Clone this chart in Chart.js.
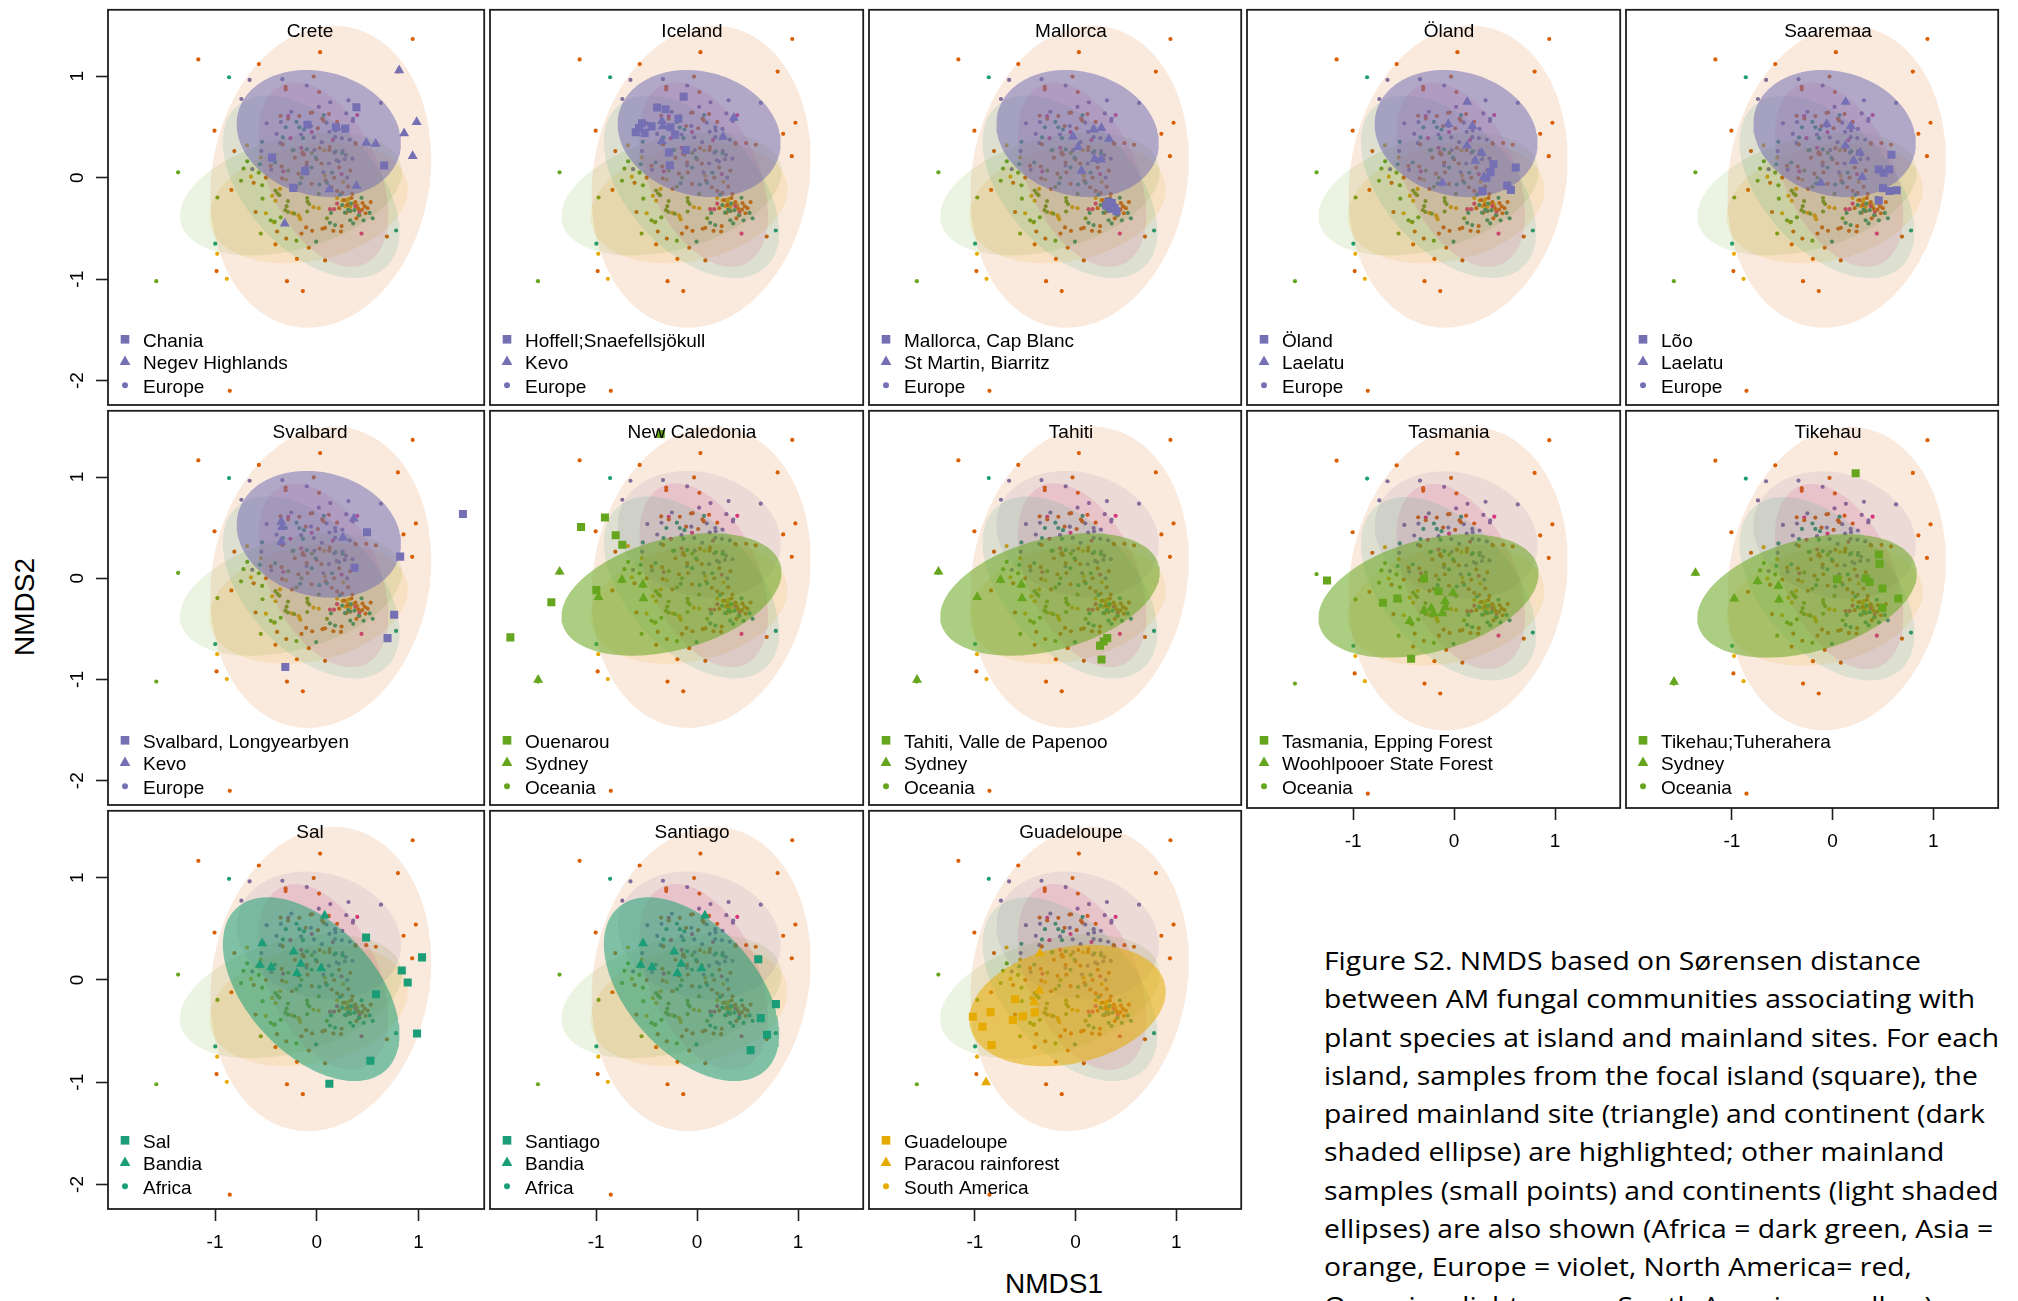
<!DOCTYPE html>
<html lang="en">
<head>
<meta charset="utf-8">
<title>NMDS of AM fungal communities</title>
<script src="https://cdn.jsdelivr.net/npm/chart.js@4.4.1/dist/chart.umd.min.js"></script>
<style>
  html, body { margin: 0; padding: 0; background: #fff; }
  body { width: 2018px; height: 1301px; overflow: hidden; position: relative; }
  canvas.panel { position: absolute; }
  .axis-title { position: absolute; font-family: "Liberation Sans", Arial, sans-serif; font-size: 28px; color: #000; white-space: nowrap; }
  #nmds1 { left: 1054px; top: 1284px; transform: translate(-50%, -50%); }
  #nmds2 { left: 25px; top: 607px; transform: translate(-50%, -50%) rotate(-90deg); }
  #caption { position: absolute; left: 1324px; top: 941px; font-family: "Open Sans", "Noto Sans", sans-serif;
             font-size: 25px; line-height: 38.3px; color: #000; white-space: nowrap; transform-origin: 0 0; }
  #caption div { display: block; }
</style>
</head>
<body>
<div id="nmds1" class="axis-title">NMDS1</div>
<div id="nmds2" class="axis-title">NMDS2</div>
<div id="caption"></div>
<script>
// ---------- axis ranges and ticks ----------
const xRange = [-2.052, 1.646];
const yRange = [-2.24, 1.655];
const xTickValues = [-1, 0, 1];
const yTickValues = [-2, -1, 0, 1];

// ---------- continents ----------
const continents = ['Africa', 'Asia', 'Europe', 'North America', 'Oceania', 'South America'];
const continentColors = ['#1B9E77', '#D95F02', '#7570B3', '#E7298A', '#66A61E', '#E6AB02'];

// dispersion ellipses per continent: centre, semi-axes, rotation (degrees)
const ellipseCx    = [-0.055, 0.04, 0.02, 0.065, -0.254, -0.08];
const ellipseCy    = [-0.09, 0.01, 0.435, 0.03, -0.16, -0.25];
const ellipseA     = [1.08, 1.50, 0.82, 0.97, 1.12, 0.99];
const ellipseB     = [0.63, 1.07, 0.61, 0.54, 0.55, 0.57];
const ellipseAngle = [-47, 80, -15, -65, 15, 12];

// ---------- mainland samples (small points), NMDS1 / NMDS2 ----------
const africaPts = [[-0.862,0.99],[0.07,0.617],[-0.304,0.497],[-0.171,0.497],[-0.125,0.475],[-0.333,0.397],[-0.135,0.39],
  [-0.538,0.354],[0.187,0.26],[0.252,0.241],[-0.559,0.133],[-0.228,0.273],[-0.098,0.279],[-0.01,0.198],[0.026,-0.068],
  [-0.163,-0.055],[-0.998,-0.65],[0.78,-0.52],[-0.006,-0.63],[0.13,-0.445],[0.18,-0.467],[0.14,-0.347],[0.277,-0.344],
  [0.326,-0.328],[0.329,-0.419],[0.358,-0.45],[0.414,-0.37],[0.52,-0.347],[0.228,-0.166],[0.309,-0.315],[0.44,-0.198],[0.336,-0.256],
  [-0.41,0.15],[-0.05,0.1],[0.15,0.05],[0.1,-0.05],[0.25,-0.27],[0.46,-0.42],[0.37,-0.32],[0.55,-0.4],[-0.2,0.55]];
const asiaPts = [[0.943,1.367],[0.033,1.237],[-1.164,1.166],[-0.569,1.12],[0.798,1.046],[-0.03,0.997],[-0.306,0.896],[-0.306,0.87],
  [0.023,0.845],[0.974,0.542],[0.853,0.433],[0.938,0.212],[-1.005,0.464],[-0.81,0.263],[-0.839,-0.12],[-0.601,-0.338],[-0.985,-0.92],
  [-0.293,-1.02],[-0.137,-1.117],[-0.855,-2.1],[-0.406,-0.657],[-0.195,-0.8],[0.082,-0.815],[-0.078,-0.69],[0.69,-0.58],
  [-0.356,0.611],[-0.281,0.582],[-0.171,0.608],[-0.06,0.64],[-0.044,0.643],[0.054,0.582],[0.067,0.562],[0.119,0.627],[-0.109,0.51],
  [0.011,0.487],[0.379,0.341],[0.486,0.341],[0.581,0.325],[-0.138,0.251],[-0.125,0.228],[0.028,0.293],[0.128,0.303],
  [-0.341,-0.006],[-0.345,0.11],[-0.452,0.117],[-0.215,0.198],[-0.098,0.149],[0.046,0.14],[0.124,0.273],[0.384,0.334],[-0.335,0.328],
  [0.088,-0.029],[0.146,-0.094],[0.309,-0.088],[-0.244,-0.11],[-0.091,0.052],[0.2,-0.13],
  [-0.39,-0.53],[-0.104,-0.49],[-0.045,-0.523],[0.056,-0.503],[0.082,-0.494],[0.163,-0.523],[0.238,-0.53],[0.244,-0.477],
  [0.302,-0.27],[0.341,-0.2],[0.38,-0.24],[0.407,-0.305],[0.446,-0.315],[0.472,-0.282],[0.35,-0.16],[0.25,-0.15],[0.42,-0.37],
  [0.29,-0.345],[0.45,-0.25],[0.5,-0.3],
  [-0.62,-0.05],[-0.5,0.0],[-0.18,0.04],[0.0,0.18],[0.22,0.1],[0.33,0.07],[-0.05,-0.06],[0.17,0.0],
  [0.27,-0.22],[0.33,-0.33],[0.48,-0.35],[0.39,-0.4],[0.22,-0.3],[0.53,-0.24],[-0.3,-0.6],[-0.15,-0.55],[0.2,0.55]];
const europePts = [[-0.66,0.964],[-0.338,0.971],[-0.098,0.909],[-0.741,0.776],[0.312,0.763],[0.133,0.743],[0.631,0.737],[0.02,0.698],
  [0.358,0.58],[0.355,0.56],[0.29,0.634],[-0.493,0.536],[-0.353,0.549],[-0.057,0.51],[0.096,0.543],[0.18,0.497],[0.184,0.465],
  [0.252,0.481],[0.125,0.452],[-0.395,0.432],[-0.154,0.426],[-0.028,0.397],[0.18,0.4],[0.246,0.39],[0.324,0.374],[-0.359,0.341],
  [-0.545,0.263],[0.172,0.247],[0.286,0.224],[0.351,0.188],[0.195,0.172],[0.218,0.159],[0.276,0.182],[0.299,0.0],[-0.634,0.084],
  [-0.446,0.078],[-0.023,0.273],[0.254,0.263],[0.065,0.052],[-0.1,0.12],[0.12,0.14],[-0.25,0.65],[0.05,0.35]];
const northAmericaPts = [[-0.281,0.608],[0.398,0.617],[-0.259,0.39],[0.158,0.371],[-0.14,0.237],[-0.153,0.295],[0.244,0.036],
  [0.44,-0.55],[0.13,-0.31],[0.17,-0.31],[0.2,-0.256],[0.42,-0.338],[-0.33,0.062],[0.38,-0.28],[-0.05,0.45]];
const oceaniaPts = [[-1.363,0.053],[-1.577,-1.02],[-0.976,-0.195],[-0.744,-0.03],[-0.537,-0.075],[-0.533,-0.207],[-0.683,0.162],
  [-0.239,0.27],[-0.047,0.244],[-0.452,-0.42],[-0.413,-0.435],[-0.354,-0.39],[-0.406,-0.127],[-0.386,-0.153],[-0.367,-0.172],
  [-0.283,-0.23],[-0.296,-0.28],[-0.308,-0.32],[-0.283,-0.338],[-0.221,-0.354],[-0.094,-0.2],[-0.091,-0.236],[-0.074,-0.26],
  [-0.094,-0.333],[0.02,-0.16],[-0.2,-0.09],[0.1,-0.4],
  [-0.72,0.09],[-0.57,0.05],[-0.28,0.07],[-0.15,0.0],[-0.55,-0.55],[-0.2,-0.62]];
const southAmericaPts = [[-0.685,0.318],[-0.647,0.01],[0.073,0.27],[-0.979,-0.75],[-0.884,-0.996],[-0.42,-0.44],[-0.439,-0.178],
  [-0.406,-0.227],[-0.361,-0.11],[-0.244,-0.347],[-0.179,-0.37],[-0.162,-0.41],[-0.172,-0.386],[-0.032,-0.29],[0.02,-0.3],
  [0.254,-0.224],[0.302,-0.24],[0.329,-0.289],[0.358,-0.256],[0.2,-0.2],
  [-0.55,0.2],[-0.3,-0.02],[0.08,0.02],[0.26,-0.04],[0.31,-0.21],[0.28,-0.28],[0.4,-0.27],[-0.5,-0.35]];
const backgroundPts = [africaPts, asiaPts, europePts, northAmericaPts, oceaniaPts, southAmericaPts];

// ---------- focal island samples (squares) ----------
const chaniaPts = [[0.39,0.695],[-0.091,0.523],[0.189,0.497],[0.28,0.484],[-0.439,0.198],[-0.114,0.065],[-0.231,-0.1],[0.663,0.12]];
const hoffellPts = [[-0.133,0.799],[-0.396,0.692],[-0.312,0.675],[-0.185,0.581],[-0.546,0.536],[-0.575,0.49],[-0.452,0.506],
  [-0.263,0.497],[-0.608,0.448],[-0.52,0.442],[-0.218,0.425],[-0.11,0.273],[-0.279,0.25],[-0.27,0.123]];
const capBlancPts = [[0.304,-0.273],[0.36,-0.25],[0.388,-0.299],[0.407,-0.331],[0.351,-0.305],[0.327,-0.235]];
const olandPts = [[0.389,0.133],[0.611,0.1],[0.361,0.055],[0.318,0.0],[0.526,-0.078],[0.563,-0.12],[0.281,-0.13]];
const looPts = [[0.585,0.227],[0.459,0.081],[0.507,0.049],[0.563,0.081],[0.501,-0.104],[0.566,-0.13],[0.638,-0.123],[0.459,-0.224]];
const longyearbyenPts = [[1.437,0.636],[0.494,0.455],[0.82,0.214],[0.371,0.104],[0.761,-0.36],[0.696,-0.591],[-0.309,-0.877]];
const ouenarouPts = [[-0.36,1.425],[-0.913,0.601],[-1.15,0.506],[-0.806,0.425],[-0.741,0.331],[-0.998,-0.117],[-1.444,-0.237],[-1.85,-0.584]];
const papenooPts = [[0.315,-0.591],[0.28,-0.623],[0.244,-0.665],[0.258,-0.802]];
const eppingPts = [[-1.259,-0.01],[-0.298,0.01],[-0.154,-0.114],[-0.563,-0.185],[-0.706,-0.227],[-0.426,-0.776]];
const tuheraheraPts = [[0.23,1.042],[0.46,0.246],[0.467,0.156],[0.044,0.003],[0.331,0.01],[0.367,-0.023],[0.496,-0.088],[0.654,-0.185],[0.496,-0.276]];
const salPts = [[0.485,0.416],[1.035,0.221],[0.836,0.092],[0.894,-0.025],[0.582,-0.139],[0.986,-0.524],[0.527,-0.79],[0.124,-1.015]];
const santiagoPts = [[0.606,0.203],[0.781,-0.236],[0.631,-0.373],[0.693,-0.536],[0.53,-0.686]];
const guadeloupePts = [[-0.6,-0.188],[-1.02,-0.36],[-0.844,-0.314],[-0.525,-0.356],[-0.623,-0.392],[-0.405,-0.317],[-0.925,-0.457],[-0.834,-0.635]];

// ---------- paired mainland samples (triangles) ----------
const negevPts = [[0.81,1.058],[0.982,0.549],[0.859,0.438],[0.488,0.344],[0.579,0.334],[0.943,0.214],[0.39,-0.081],[0.124,-0.114],[-0.315,-0.451]];
const kevoPts = [[-0.348,0.558],[-0.341,0.506],[-0.35,0.36],[0.364,0.59],[0.257,0.403]];
const biarritzPts = [[0.181,0.474],[0.257,0.49],[-0.026,0.406],[0.332,0.383],[0.026,0.302],[0.19,0.185],[0.252,0.178],[0.059,0.068]];
const laelatuPts = [[0.13,0.747],[-0.058,0.529],[0.182,0.51],[0.128,0.316],[0.274,0.246],[0.21,0.166],[0.296,0.006],[-0.116,-0.05]];
const sydneyPts = [[-1.362,0.065],[-0.745,-0.016],[-0.537,-0.062],[-0.977,-0.187],[-0.532,-0.197],[-1.575,-1.003]];
const woohlpooerPts = [[-0.011,-0.13],[-0.09,-0.211],[-0.09,-0.276],[-0.226,-0.282],[-0.298,-0.305],[-0.204,-0.331],[-0.118,-0.331],[-0.441,-0.406]];
const bandiaPts = [[0.078,0.63],[-0.536,0.358],[-0.227,0.277],[-0.156,0.157],[-0.559,0.147],[-0.448,0.124],[-0.195,0.065],[0.043,0.114]];
const paracouPts = [[-0.353,0.26],[-0.359,-0.103],[-0.411,-0.217],[-0.889,-1.0]];

// ---------- panels ----------
const panelTitles = ['Crete','Iceland','Mallorca','Öland','Saaremaa','Svalbard','New Caledonia','Tahiti','Tasmania','Tikehau','Sal','Santiago','Guadeloupe'];
const islandNames = ['Chania','Hoffell;Snaefellsjökull','Mallorca, Cap Blanc','Öland','Lõo','Svalbard, Longyearbyen','Ouenarou',
  'Tahiti, Valle de Papenoo','Tasmania, Epping Forest','Tikehau;Tuherahera','Sal','Santiago','Guadeloupe'];
const mainlandNames = ['Negev Highlands','Kevo','St Martin, Biarritz','Laelatu','Laelatu','Kevo','Sydney','Sydney',
  'Woohlpooer State Forest','Sydney','Bandia','Bandia','Paracou rainforest'];
const focalContinent = [2,2,2,2,2,2,4,4,4,4,0,0,5];
const islandSamples = [chaniaPts, hoffellPts, capBlancPts, olandPts, looPts, longyearbyenPts, ouenarouPts, papenooPts,
  eppingPts, tuheraheraPts, salPts, santiagoPts, guadeloupePts];
const mainlandSamples = [negevPts, kevoPts, biarritzPts, laelatuPts, laelatuPts, kevoPts, sydneyPts, sydneyPts,
  woohlpooerPts, sydneyPts, bandiaPts, bandiaPts, paracouPts];

// caption text
const captionLines = [
  'Figure S2. NMDS based on Sørensen distance',
  'between AM fungal communities associating with',
  'plant species at island and mainland sites. For each',
  'island, samples from the focal island (square), the',
  'paired mainland site (triangle) and continent (dark',
  'shaded ellipse) are highlighted; other mainland',
  'samples (small points) and continents (light shaded',
  'ellipses) are also shown (Africa = dark green, Asia =',
  'orange, Europe = violet, North America= red,',
  'Oceania = light green, South America = yellow).'
];

// ---------- layout of the panel grid (page pixels) ----------
const colEdges = [108, 487, 866, 1244, 1623, 2001];
const rowEdges = [7, 408, 808, 1209];
const FONT = '"Liberation Sans", Arial, sans-serif';

function rgba(hex, a) {
  const n = parseInt(hex.slice(1), 16);
  return `rgba(${(n >> 16) & 255},${(n >> 8) & 255},${n & 255},${a})`;
}
const toXY = arr => arr.map(p => ({x: p[0], y: p[1]}));

function ellipseOutline(k) {
  const pts = [];
  const th = ellipseAngle[k] * Math.PI / 180;
  const n = 144;
  for (let i = 0; i <= n; i++) {
    const t = i / n * 2 * Math.PI;
    const u = ellipseA[k] * Math.cos(t), v = ellipseB[k] * Math.sin(t);
    pts.push({x: ellipseCx[k] + u * Math.cos(th) - v * Math.sin(th),
              y: ellipseCy[k] + u * Math.sin(th) + v * Math.cos(th)});
  }
  return pts;
}

function markerPath(ctx, style, x, y, r) {
  ctx.beginPath();
  if (style === 'rect') {
    const s = r * Math.SQRT1_2;
    ctx.rect(x - s, y - s, 2 * s, 2 * s);
  } else if (style === 'triangle') {
    for (let i = 0; i < 3; i++) {
      const ang = i * 2 * Math.PI / 3;
      const px = x + Math.sin(ang) * r, py = y - Math.cos(ang) * r;
      if (i === 0) ctx.moveTo(px, py); else ctx.lineTo(px, py);
    }
    ctx.closePath();
  } else {
    ctx.arc(x, y, r, 0, 2 * Math.PI);
  }
  ctx.fill();
}

// frame, panel title and the three-entry key inside each panel
const panelDecor = {
  id: 'panelDecor',
  afterDraw(chart, args, opts) {
    const {ctx, chartArea: a} = chart;
    ctx.save();
    ctx.lineWidth = 1.8;
    ctx.strokeStyle = '#1e1e1e';
    ctx.strokeRect(a.left, a.top, a.right - a.left, a.bottom - a.top);

    ctx.fillStyle = '#000';
    ctx.font = '19px ' + FONT;
    ctx.textAlign = 'center';
    ctx.textBaseline = 'alphabetic';
    ctx.fillText(opts.title, a.left + 202, a.top + 27);

    const mx = a.left + 17, tx = a.left + 35;
    const dy = -3;
    ctx.fillStyle = opts.color;
    markerPath(ctx, 'rect', mx, a.top + 332.5 + dy, 6.1);
    markerPath(ctx, 'triangle', mx, a.top + 355 + dy, 6.2);
    markerPath(ctx, 'circle', mx, a.top + 378.5 + dy, 3);
    ctx.fillStyle = '#000';
    ctx.textAlign = 'left';
    ctx.fillText(opts.island, tx, a.top + 339.7 + dy);
    ctx.fillText(opts.mainland, tx, a.top + 362.5 + dy);
    ctx.fillText(opts.continent, tx, a.top + 385.7 + dy);
    ctx.restore();
  }
};

function buildPanel(p) {
  const row = Math.floor(p / 5), col = p % 5;
  const left = colEdges[col], right = colEdges[col + 1];
  const top = rowEdges[row], bottom = rowEdges[row + 1];
  const hasY = col === 0;
  const hasX = row === 2 || (row === 1 && col >= 3);
  const padL = hasY ? left : 3;
  const padB = hasX ? 60 : 3;

  const canvas = document.createElement('canvas');
  canvas.className = 'panel';
  const cw = padL + (right - left) + 3, ch = 3 + (bottom - top) + padB;
  canvas.width = cw; canvas.height = ch;
  canvas.style.left = (left - padL) + 'px';
  canvas.style.top = (top - 3) + 'px';
  canvas.style.width = cw + 'px';
  canvas.style.height = ch + 'px';
  document.body.appendChild(canvas);

  const fk = focalContinent[p];
  const fcol = continentColors[fk];
  const datasets = [];
  datasets.push({type: 'scatter', data: toXY(islandSamples[p]), pointStyle: 'rect', pointRadius: 5.7,
    backgroundColor: fcol, borderWidth: 0, order: 0});
  datasets.push({type: 'scatter', data: toXY(mainlandSamples[p]), pointStyle: 'triangle', pointRadius: 5.8,
    backgroundColor: fcol, borderWidth: 0, order: 1});
  datasets.push({type: 'line', data: ellipseOutline(fk), fill: 'shape', backgroundColor: rgba(fcol, 0.55),
    borderColor: 'rgba(0,0,0,0)', borderWidth: 0, pointRadius: 0, showLine: true, tension: 0, order: 2});
  continents.forEach((c, k) => {
    if (k === fk) return;
    datasets.push({type: 'line', data: ellipseOutline(k), fill: 'shape', backgroundColor: rgba(continentColors[k], 0.13),
      borderColor: 'rgba(0,0,0,0)', borderWidth: 0, pointRadius: 0, showLine: true, tension: 0, order: 3 + k});
  });
  continents.forEach((c, k) => {
    datasets.push({type: 'scatter', data: toXY(backgroundPts[k]), pointStyle: 'circle', pointRadius: 2.1,
      backgroundColor: continentColors[k], borderWidth: 0, order: 20 + k});
  });

  const tickFont = {family: FONT, size: 19};
  new Chart(canvas, {
    type: 'scatter',
    data: {datasets},
    options: {
      responsive: false,
      animation: false,
      events: [],
      layout: {padding: {left: hasY ? 0 : 3, right: 3, top: 3, bottom: hasX ? 0 : 3}},
      plugins: {
        legend: {display: false},
        tooltip: {enabled: false},
        panelDecor: {title: panelTitles[p], island: islandNames[p], mainland: mainlandNames[p],
                     continent: continents[fk], color: fcol}
      },
      scales: {
        x: {
          type: 'linear', position: 'bottom', min: xRange[0], max: xRange[1], display: hasX,
          afterBuildTicks: s => { s.ticks = xTickValues.map(v => ({value: v})); },
          afterFit: s => { s.height = padB; s.paddingLeft = 0; s.paddingRight = 0; },
          grid: {display: true, drawOnChartArea: false, drawTicks: true, tickLength: 12, tickWidth: 1.6, tickColor: '#1e1e1e'},
          border: {display: false},
          ticks: {font: tickFont, color: '#000', padding: 10, maxRotation: 0, autoSkip: false, callback: v => String(v)}
        },
        y: {
          type: 'linear', position: 'left', min: yRange[0], max: yRange[1], display: hasY,
          afterBuildTicks: s => { s.ticks = yTickValues.map(v => ({value: v})); },
          afterFit: s => { s.width = padL; s.paddingTop = 0; s.paddingBottom = 0; },
          grid: {display: true, drawOnChartArea: false, drawTicks: true, tickLength: 12, tickWidth: 1.6, tickColor: '#1e1e1e'},
          border: {display: false},
          ticks: {font: tickFont, color: '#000', padding: 10, minRotation: 90, maxRotation: 90, crossAlign: 'center',
                  autoSkip: false, callback: v => String(v)}
        }
      }
    },
    plugins: [panelDecor]
  });
}

for (let p = 0; p < panelTitles.length; p++) buildPanel(p);

// caption block, squeezed horizontally to the column width
const cap = document.getElementById('caption');
captionLines.forEach(t => { const d = document.createElement('div'); d.textContent = t; cap.appendChild(d); });
function fitCaption() {
  cap.style.transform = 'none';
  const w = cap.children[2].getBoundingClientRect().width;
  if (w > 0) cap.style.transform = `scaleX(${675 / w})`;
}
fitCaption();
if (document.fonts && document.fonts.ready) document.fonts.ready.then(fitCaption);
</script>
</body>
</html>
